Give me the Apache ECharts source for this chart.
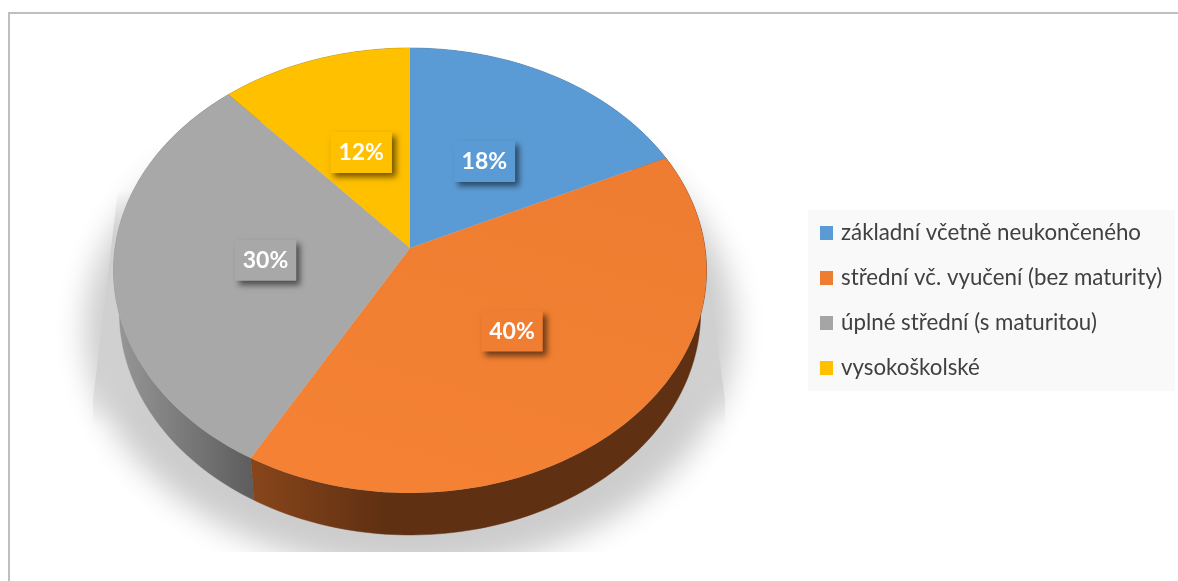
<!DOCTYPE html>
<html><head><meta charset="utf-8">
<style>html,body{margin:0;padding:0;background:#fff}#c{width:1178px;height:581px}</style>
<script src="https://cdn.jsdelivr.net/npm/echarts@6/dist/echarts.min.js"></script>
</head><body><div id="c"></div>
<script>
const categories = ['základní včetně neukončeného','střední vč. vyučení (bez maturity)','úplné střední (s maturitou)','vysokoškolské'];
const shares = [18, 40.2, 30.3, 11.5];
const shareLabels = ['18%','40%','30%','12%'];
const colors = ['#5b9bd5','#ed7d31','#a5a5a5','#ffc000'];

const CX=410, CY=248, A=295, B=220.2, K=0.101, DEPTH=42, RIM=0.98;
const total = shares.reduce((a,b)=>a+b,0);
const starts = []; { let c=0; shares.forEach(v=>{starts.push(c); c+=v;}); }
function proj(frac, r){
  const t = frac/total*2*Math.PI, u = r*Math.sin(t), v = -r*Math.cos(t), d = 1-K*v;
  return [CX+A*u/d, CY+B*v/d];
}
function arc(i, dy, sx){
  const pts=[], n=Math.max(8,Math.ceil(shares[i]*3));
  for(let k=0;k<=n;k++){ const p=proj(starts[i]+shares[i]*k/n,1); pts.push([CX+(p[0]-CX)*sx,p[1]+dy]); }
  return pts;
}
const lin=(x0,y0,x1,y1,stops)=>new echarts.graphic.LinearGradient(x0,y0,x1,y1,stops.map(s=>({offset:s[0],color:s[1]})),true);
const topFill=[
  colors[0],
  lin(520,160,420,490,[[0,'#ee7d31'],[1,'#f58234']]),
  '#a8a8a8',
  colors[3]
];
const sideFill=[
  '#3d6b94',
  lin(255,0,385,0,[[0,'#87451b'],[1,'#5f3012']]),
  lin(118,0,255,0,[[0,'#969696'],[1,'#5c5c5c']]),
  '#a07a00'
];
const labelBg=[colors[0],'#f07e32','#a8a8a8',colors[3]];
const wedge=(a)=>[[0,`rgba(208,208,208,0)`],[a,'rgba(208,208,208,1)'],[0.76,'rgba(208,208,208,1)'],[1,'rgba(208,208,208,0)']];

const shadowSeries={
  type:'custom',coordinateSystem:'none',silent:true,z:1,data:[0],
  renderItem(){
    const off=3000;
    return {type:'group',children:[
      {type:'ellipse',shape:{cx:410-off,cy:330,rx:325,ry:240},
       style:{fill:'#cdcdcd',shadowColor:'#cdcdcd',shadowBlur:30,shadowOffsetX:off}},
      {type:'polygon',shape:{points:[[118,190],[93,400],[93,425],[220,425],[220,190]]},
       style:{fill:lin(0,190,0,425,wedge(0.2))}},
      {type:'polygon',shape:{points:[[702,230],[725,400],[725,425],[600,425],[600,230]]},
       style:{fill:lin(0,230,0,425,wedge(0.18))}},
      {type:'rect',shape:{x:0,y:552,width:1178,height:29},style:{fill:'#fff'}}
    ]};
  }
};
const sideSeries={
  type:'custom',coordinateSystem:'none',silent:true,z:2,data:[0],
  renderItem(){
    return {type:'group',children:shares.map((v,i)=>{
      const a=arc(i,0,1), b=arc(i,DEPTH,RIM).reverse();
      return {type:'polygon',shape:{points:a.concat(b)},style:{fill:sideFill[i],stroke:sideFill[i],lineWidth:0.5}};
    })};
  }
};
const sliceSeries=categories.map((name,i)=>({
  name,type:'custom',coordinateSystem:'none',z:3,data:[shares[i]],
  itemStyle:{color:colors[i]},
  renderItem(){
    const p=proj(starts[i]+shares[i]/2,0.49);
    return {type:'group',children:[
      {type:'polygon',shape:{points:[[CX,CY]].concat(arc(i,0,1))},style:{fill:topFill[i]}},
      {type:'text',z2:5,style:{x:p[0],y:p[1]+1,text:shareLabels[i],align:'center',verticalAlign:'middle',
        fill:'#fff',font:'bold 23px Lato, "Open Sans", sans-serif',backgroundColor:labelBg[i],
        padding:[9,8,9,8],shadowBlur:6,shadowColor:'rgba(0,0,0,0.55)',shadowOffsetX:4,shadowOffsetY:4}}
    ]};
  }
}));

const chart=echarts.init(document.getElementById('c'),null,{renderer:'canvas'});
chart.setOption({
  animation:false,backgroundColor:'#fff',
  graphic:[
    {type:'rect',z:1,silent:true,shape:{x:808,y:210,width:367,height:181},style:{fill:'#f9f9f9'}},
    {type:'rect',z:10,silent:true,shape:{x:8,y:12,width:1170,height:2},style:{fill:'#bfbfbf'}},
    {type:'rect',z:10,silent:true,shape:{x:8,y:12,width:2,height:569},style:{fill:'#bfbfbf'}}
  ],
  legend:{
    data:categories,orient:'vertical',left:815,top:216,itemWidth:13,itemHeight:14,itemGap:21,
    icon:'rect',selectedMode:false,
    textStyle:{color:'#404040',fontSize:22.3,fontFamily:'Lato, "Open Sans", sans-serif',padding:[0,0,0,3],lineHeight:24}
  },
  series:[shadowSeries,sideSeries].concat(sliceSeries)
});
</script></body></html>
